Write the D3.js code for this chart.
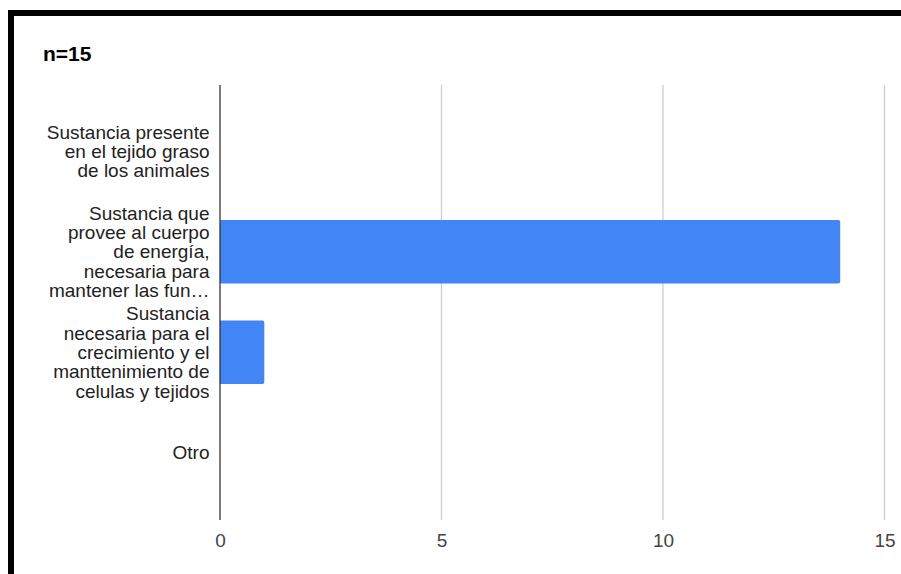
<!DOCTYPE html>
<html>
<head>
<meta charset="utf-8">
<script src="https://cdn.jsdelivr.net/npm/d3@7"></script>
<style>
  html, body { margin: 0; padding: 0; background: #fff; }
  svg { display: block; }
</style>
</head>
<body>
<svg id="chart" width="901" height="574"></svg>
<script>
// Answer options (lines as shown on the axis) and response counts
const categories = [
  "Sustancia presente\nen el tejido graso\nde los animales",
  "Sustancia que\nprovee al cuerpo\nde energía,\nnecesaria para\nmantener las fun…",
  "Sustancia\nnecesaria para el\ncrecimiento y el\nmanttenimiento de\ncelulas y tejidos",
  "Otro"
];
const counts = [0, 14, 1, 0];
const tickValues = [0, 5, 10, 15];
const title = "n=15";

const svg = d3.select("#chart");
const font = "Arial, 'Liberation Sans', sans-serif";

// Frame: thick black rules on top and left
svg.append("rect").attr("x", 8).attr("y", 10).attr("width", 893).attr("height", 6).attr("fill", "#000");
svg.append("rect").attr("x", 8).attr("y", 10).attr("width", 6).attr("height", 564).attr("fill", "#000");

const x = d3.scaleLinear().domain([0, 15]).range([220, 884.5]);
const y = d3.scaleBand().domain(categories).range([101, 503]).paddingInner(0.37).paddingOuter(0.185);

const gridTop = 85, gridBottom = 520;

// Vertical gridlines
svg.append("g")
  .selectAll("line")
  .data(tickValues.filter(v => v !== 0))
  .join("line")
  .attr("x1", d => x(d)).attr("x2", d => x(d))
  .attr("y1", gridTop).attr("y2", gridBottom)
  .attr("stroke", "#cccccc").attr("stroke-width", 1.3);

// Bars, rounded on the value end
const r = 2;
svg.append("g")
  .selectAll("path")
  .data(categories.map((c, i) => ({ c, v: counts[i] })).filter(d => d.v > 0))
  .join("path")
  .attr("fill", "#4285f4")
  .attr("d", d => {
    const x0 = x(0), x1 = x(d.v), y0 = y(d.c), h = y.bandwidth();
    return `M${x0},${y0}H${x1 - r}Q${x1},${y0} ${x1},${y0 + r}V${y0 + h - r}Q${x1},${y0 + h} ${x1 - r},${y0 + h}H${x0}Z`;
  });

// Zero baseline
svg.append("line")
  .attr("x1", x(0)).attr("x2", x(0))
  .attr("y1", gridTop).attr("y2", gridBottom)
  .attr("stroke", "#333").attr("stroke-width", 1.3);

// Bottom axis tick labels
const xAxis = d3.axisBottom(x).tickValues(tickValues).tickSize(0).tickPadding(0).tickFormat(d3.format("d"));
const gx = svg.append("g").attr("transform", `translate(0,${gridBottom})`).call(xAxis);
gx.select(".domain").remove();
gx.selectAll("text")
  .attr("y", 26.5).attr("dy", null)
  .attr("font-family", font).attr("font-size", 19).attr("fill", "#444");

// Category labels, multi-line and right-aligned
const lh = 19.3;
const labels = svg.append("g")
  .selectAll("text")
  .data(categories)
  .join("text")
  .attr("text-anchor", "end")
  .attr("font-family", font).attr("font-size", 19).attr("fill", "#222");
labels.each(function (c) {
  const lines = c.split("\n");
  const cy = y(c) + y.bandwidth() / 2;
  const first = cy - (lines.length - 1) / 2 * lh + 6.7;
  d3.select(this).selectAll("tspan")
    .data(lines)
    .join("tspan")
    .attr("x", 209.5)
    .attr("y", (d, i) => first + i * lh)
    .text(d => d);
});

// Title
svg.append("text")
  .attr("x", 43).attr("y", 61)
  .attr("font-family", font).attr("font-size", 21).attr("font-weight", "bold").attr("fill", "#000")
  .text(title);
</script>
</body>
</html>
